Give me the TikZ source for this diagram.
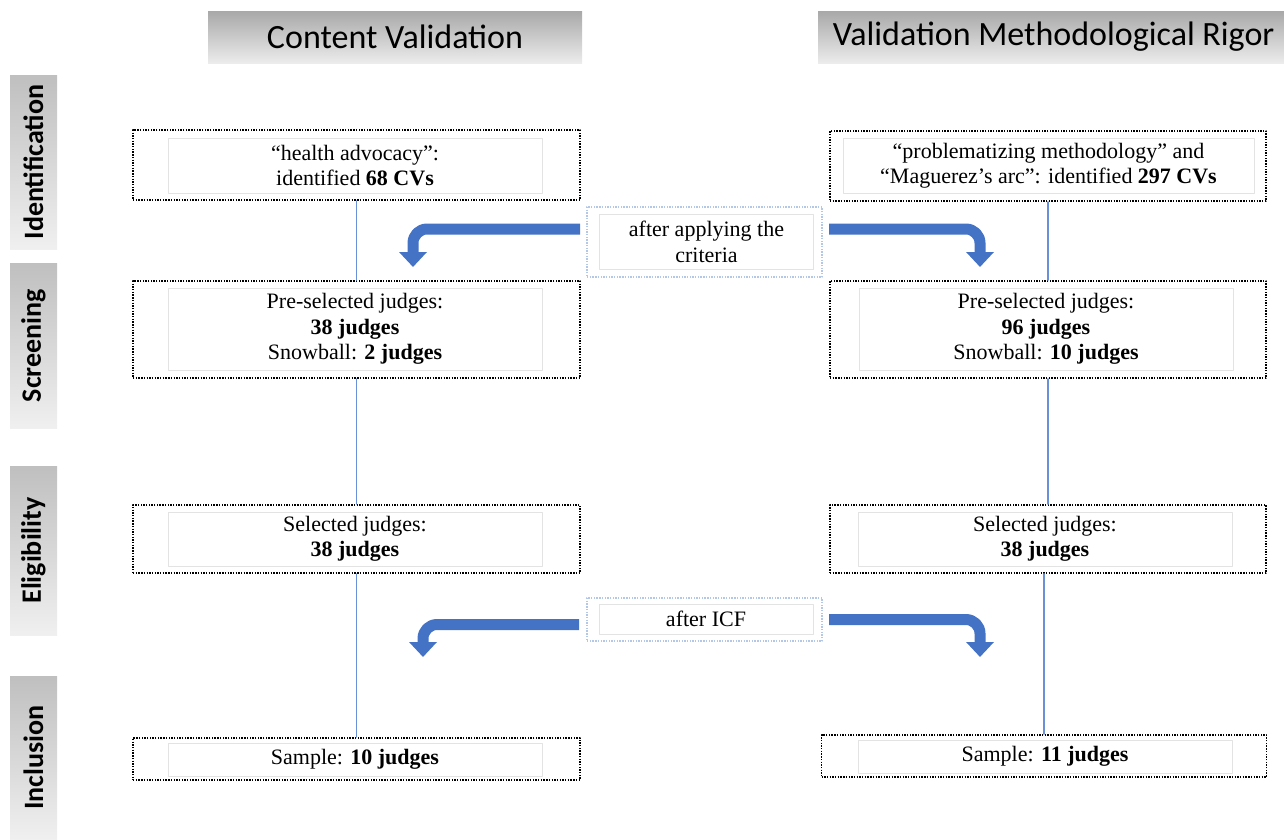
\documentclass[tikz,border=0pt]{standalone}
\usepackage{fontspec}
\setmainfont{Liberation Serif}
\setsansfont{Carlito}
\usetikzlibrary{arrows.meta}

\definecolor{arrowblue}{RGB}{68,114,196}
\definecolor{arrowdark}{RGB}{47,82,143}
\definecolor{linkblue}{RGB}{105,145,218}
\definecolor{critblue}{RGB}{180,199,231}

\begin{document}
\begin{tikzpicture}[x=1pt,y=-1pt,line cap=round,line join=round,
    head/.style={top color=gray!68,bottom color=gray!15,minimum height=52pt,inner sep=0pt,
      font=\sffamily\fontsize{34}{40}\selectfont},
    phase/.style={rotate=90,top color=gray!50,bottom color=gray!12,minimum height=47pt,inner sep=0pt,
      font=\sffamily\bfseries\fontsize{28}{32}\selectfont},
    outerbox/.style={draw,line width=1.8pt,dash pattern=on 1.4pt off 1.3pt,line cap=butt,inner sep=0pt},
    innerbox/.style={draw=gray!22,line width=0.6pt,fill=white,align=center,inner sep=0pt,
      font=\fontsize{22}{25.5}\selectfont},
    critbox/.style={draw=critblue,line width=1.8pt,dash pattern=on 1.4pt off 1.3pt,line cap=butt,inner sep=0pt},
    link/.style={draw=linkblue,line width=1.4pt},
    bendarrow/.style={draw=arrowblue,line width=11pt,line cap=butt,rounded corners=14pt,
      -{Triangle[width=27pt,length=15pt]}}]
  \useasboundingbox (0,0) rectangle (1284,839);

  % column headers
  \node[head,minimum width=374pt] (hcv) at (395,37) {Content Validation};
  \node[head,minimum width=471pt,anchor=west] (hvr) at (818,37) {Validation Methodological Rigor};

  % phase labels
  \node[phase,minimum width=174pt] (pid) at (33.5,162) {Identification};
  \node[phase,minimum width=165pt] (pscr) at (33.5,345.5) {Screening};
  \node[phase,minimum width=169pt] (pelg) at (33.5,550.5) {Eligibility};
  \node[phase,minimum width=163pt] (pinc) at (33.5,757.5) {Inclusion};

  % content validation column
  \node[outerbox,minimum width=447pt,minimum height=70pt] (lid) at (356.5,165) {};
  \node[innerbox,minimum width=374pt,minimum height=55pt] (lidt) at (355,165.5)
    {“health advocacy”:\\identified \textbf{68 CVs}};
  \node[outerbox,minimum width=447pt,minimum height=97pt] (lscr) at (356.5,329.5) {};
  \node[innerbox,minimum width=374pt,minimum height=82pt] (lscrt) at (355,329)
    {Pre-selected judges:\\\textbf{38 judges}\\Snowball: \textbf{2 judges}};
  \node[outerbox,minimum width=447pt,minimum height=68pt] (lelg) at (356.5,539) {};
  \node[innerbox,minimum width=374pt,minimum height=54pt] (lelgt) at (355,539)
    {Selected judges:\\\textbf{38 judges}};
  \node[outerbox,minimum width=447pt,minimum height=42pt] (linc) at (356.5,759) {};
  \node[innerbox,minimum width=374pt,minimum height=33pt] (linct) at (355,759.5)
    {Sample: \textbf{10 judges}};

  % methodological rigor column
  \node[outerbox,minimum width=436pt,minimum height=70pt] (rid) at (1048,166) {};
  \node[innerbox,minimum width=411pt,minimum height=55pt] (ridt) at (1048.5,165.5)
    {“problematizing methodology” and\\“Maguerez's arc”: identified \textbf{297 CVs}};
  \node[outerbox,minimum width=436pt,minimum height=97pt] (rscr) at (1048,329.5) {};
  \node[innerbox,minimum width=374pt,minimum height=82pt] (rscrt) at (1046,329)
    {Pre-selected judges:\\\textbf{96 judges}\\Snowball: \textbf{10 judges}};
  \node[outerbox,minimum width=436pt,minimum height=68pt] (relg) at (1048,539) {};
  \node[innerbox,minimum width=374pt,minimum height=54pt] (relgt) at (1045,539)
    {Selected judges:\\\textbf{38 judges}};
  \node[outerbox,minimum width=445pt,minimum height=42pt] (rinc) at (1044,756) {};
  \node[innerbox,minimum width=374pt,minimum height=33pt] (rinct) at (1045,756.5)
    {Sample: \textbf{11 judges}};

  % criteria notes
  \node[critbox,minimum width=235pt,minimum height=70pt] (crit) at (704.5,242) {};
  \node[innerbox,minimum width=214pt,minimum height=55pt] (critt) at (706.5,242)
    {after applying the\\criteria};
  \node[critbox,minimum width=235pt,minimum height=43pt] (icf) at (704.5,619.5) {};
  \node[innerbox,minimum width=214pt,minimum height=30pt] (icft) at (706,619)
    {after ICF};

  % vertical links
  \draw[link] (lid.south) -- (lscr.north);
  \draw[link] (lscr.south) -- (lelg.north);
  \draw[link] (lelg.south) -- (linc.north);
  \draw[link] (rid.south) -- (rscr.north);
  \draw[link] (rscr.south) -- (relg.north);
  \draw[link] (rinc.north |- relg.south) -- (rinc.north);

  % bent arrows
  \draw[bendarrow] (580,229) -| (413,267);
  \draw[bendarrow] (829,229) -| (980,267);
  \draw[bendarrow] (579,624.5) -| (423,657);
  \draw[bendarrow] (829,619.5) -| (980,657);
\end{tikzpicture}
\end{document}
